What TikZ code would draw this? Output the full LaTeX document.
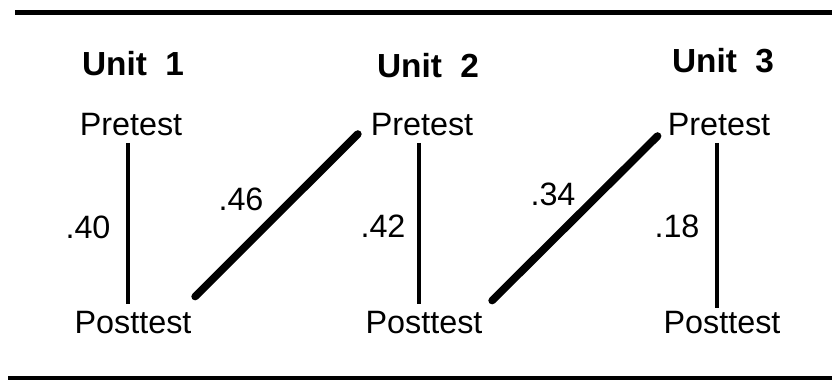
\documentclass[tikz,border=0pt]{standalone}
\usepackage{fontspec}
\setmainfont{Liberation Sans}
\usetikzlibrary{positioning}

\begin{document}
\begin{tikzpicture}[x=0.03cm, y=-0.03cm,
  unit/.style={font=\fontsize{28.5}{30}\selectfont\bfseries, anchor=base, inner sep=0pt},
  test/.style={font=\fontsize{27.6}{30}\selectfont, anchor=base, inner sep=0pt},
  val/.style={font=\fontsize{27.6}{30}\selectfont, inner sep=0pt},
  rule/.style={draw=black, line width=0.14cm},
  same/.style={draw=black, line width=0.12cm, shorten <=0.22cm, shorten >=0.2cm},
  cross/.style={draw=black, line width=0.23cm, line cap=round}]
\useasboundingbox (0,0) rectangle (832,381);
% frame rules
\draw[rule] (15,12.5) -- (832,12.5);
\draw[rule] (8,378) -- (832,378);
% units, pretest and posttest
\node[unit] (u1) at (133,75) {Unit\hspace{0.55em}1};
\node[unit] (u2) at (428,77) {Unit\hspace{0.55em}2};
\node[unit] (u3) at (723,72) {Unit\hspace{0.55em}3};
\node[test] (pre1) at (131,135) {Pretest};
\node[test] (pre2) at (422,135) {Pretest};
\node[test] (pre3) at (719,135) {Pretest};
\node[test] (post1) at (133,333) {Posttest};
\node[test] (post2) at (424,333) {Posttest};
\node[test] (post3) at (722,333) {Posttest};
% correlations
\node[val] (r1) at (88,227) {.40};
\node[val] (r2) at (383,226) {.42};
\node[val] (r3) at (677,226) {.18};
\node[val] (c12) at (241,199) {.46};
\node[val] (c23) at (553,194) {.34};
\draw[same] ([xshift=-0.09cm]pre1.south) -- ([xshift=-0.15cm]post1.north);
\draw[same] ([xshift=-0.09cm]pre2.south) -- ([xshift=-0.15cm]post2.north);
\draw[same, shorten >=0.09cm] ([xshift=-0.06cm]pre3.south) -- ([xshift=-0.15cm]post3.north);
\draw[cross] ([shift={(3.5,-14)}]post1.north east) -- ([shift={(-12.7,-1.5)}]pre2.south west);
\draw[cross] ([shift={(9.5,-10)}]post2.north east) -- ([shift={(-10,0.5)}]pre3.south west);
\end{tikzpicture}
\end{document}
